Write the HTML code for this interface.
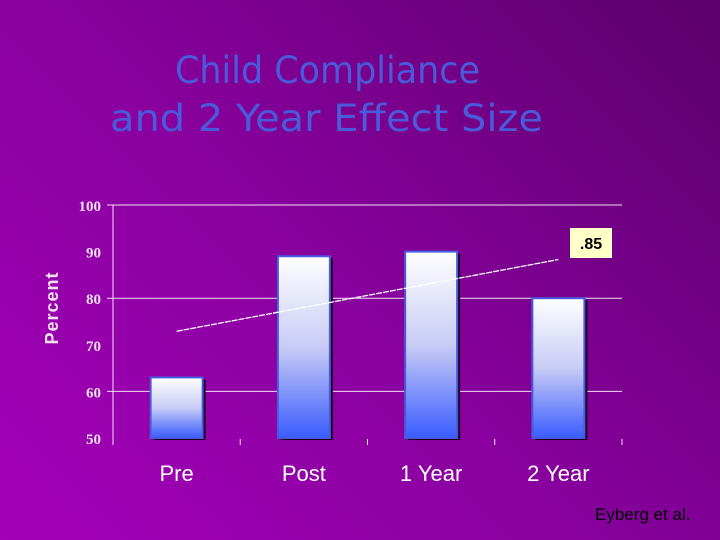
<!DOCTYPE html>
<html><head><meta charset="utf-8"><style>
html,body{margin:0;padding:0}
body{width:720px;height:540px;overflow:hidden;background:linear-gradient(45deg,#a300b8 0%,#8a00a0 45%,#5c006c 100%);font-family:"Liberation Sans",sans-serif}
svg{display:block}
</style></head><body>
<svg width="720" height="540" xmlns="http://www.w3.org/2000/svg">
<defs>
<linearGradient id="bg" x1="0" y1="0" x2="0" y2="1"><stop offset="0" stop-color="#ffffff"/><stop offset="0.5" stop-color="#c8ccf5"/><stop offset="1" stop-color="#3a5cff"/></linearGradient>
</defs>
<text x="175" y="83" textLength="305" lengthAdjust="spacingAndGlyphs" font-size="37" fill="#4a5ad8" font-family="DejaVu Sans, sans-serif">Child Compliance</text>
<text x="110" y="131" textLength="433" lengthAdjust="spacingAndGlyphs" font-size="37" fill="#4a5ad8" font-family="DejaVu Sans, sans-serif">and 2 Year Effect Size</text>
<text transform="translate(58,308) rotate(-90)" text-anchor="middle" font-size="18" font-weight="bold" fill="#f0e0f0" letter-spacing="1">Percent</text>
<g id="grid"></g><g id="bars"></g>
<text x="595" y="520" font-size="17" fill="#000">Eyberg et al.</text>
</svg>
<script>
const categories=["Pre","Post","1 Year","2 Year"];
const values=[63,89,90,80];
const yTicks=[50,60,70,80,90,100];
const gridTicks=[60,80,100];
const trendStart=[0,72.9];
const trendEnd=[3,88.3];
const effectLabel=".85";
const NS="http://www.w3.org/2000/svg";
const L=113,R=622,T=205,B=438;
const y=v=>B-(v-50)/50*(B-T);
const step=(R-L)/categories.length;
const xc=i=>L+step*(i+0.5);
const g=document.getElementById('grid'),b=document.getElementById('bars');
function mk(p,tag,a){const e=document.createElementNS(NS,tag);for(const k in a)e.setAttribute(k,a[k]);p.appendChild(e);return e;}
let e=mk(g,'line',{x1:L,y1:T,x2:L,y2:B+7,stroke:'#f0e0f0','stroke-width':1});


gridTicks.forEach(v=>{const l=mk(g,'line',{x1:L-6,y1:y(v),x2:R,y2:y(v),stroke:'#f0e0f0','stroke-width':1});

});
yTicks.forEach(v=>{const t=mk(g,'text',{x:101,y:y(v)+6,'text-anchor':'end','font-size':15,'font-weight':'bold',fill:'#f0e0f0','font-family':'Liberation Serif, serif'});t.textContent=v;

});
categories.forEach((c,i)=>{const tx=L+step*(i+1);const tk=mk(g,'line',{x1:tx,y1:B+1,x2:tx,y2:B+7,stroke:'#f0e0f0'});


const t=mk(g,'text',{x:xc(i),y:481,'text-anchor':'middle','font-size':22,fill:'#fff'});t.textContent=c;

});
const bw=52;
values.forEach((v,i)=>{const x=xc(i)-bw/2;
const sh=mk(b,'rect',{x:x+3,y:y(v)+2,width:bw,height:B-y(v),fill:'#1a0020'});


const r=mk(b,'rect',{x:x,y:y(v),width:bw,height:B-y(v),fill:'url(#bg)',stroke:'#4a5ae0','stroke-width':2});

});
const tl=mk(b,'line',{x1:xc(trendStart[0]),y1:y(trendStart[1]),x2:xc(trendEnd[0]),y2:y(trendEnd[1]),stroke:'#fff','stroke-width':1.3,'stroke-dasharray':'6 1'});


const bx=mk(b,'rect',{x:570,y:228,width:42,height:30,fill:'#ffffc8'});


const lt=mk(b,'text',{x:591,y:249,'text-anchor':'middle','font-size':16,'font-weight':'bold',fill:'#000'});lt.textContent=effectLabel;


</script>
</body></html>
